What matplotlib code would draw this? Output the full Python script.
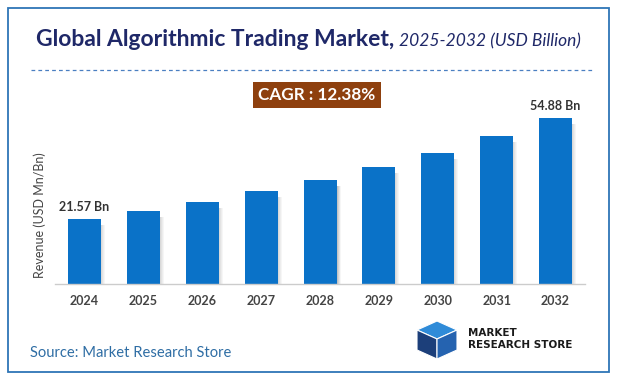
import matplotlib.pyplot as plt
import matplotlib.patches as patches
import numpy as np

# data
years = ["2024", "2025", "2026", "2027", "2028", "2029", "2030", "2031", "2032"]
revenue = [21.57, 24.24, 27.24, 30.61, 34.40, 38.66, 43.44, 48.82, 54.88]
labeled = {0: "21.57 Bn", 8: "54.88 Bn"}
cagr_text = "CAGR : 12.38%"

W, H = 617, 382

def fx(x):
    return x / W

def fy(y):
    return 1 - y / H

plt.rcParams['font.family'] = ['Lato', 'DejaVu Sans']

fig = plt.figure(figsize=(W / 100, H / 100), dpi=100)

# outer border
fig.patches.append(patches.Rectangle((fx(8), fy(372)), fx(601), 364 / H,
                                     transform=fig.transFigure, fill=False,
                                     edgecolor="#2E75B6", linewidth=1.3))

# title
t1 = fig.text(fx(36), fy(46), "Global Algorithmic Trading Market,", fontsize=16.5,
              fontweight="bold", color="#1F2868", va="baseline")
fig.canvas.draw()
bb = t1.get_window_extent()
fig.text((bb.x1 + 5) / W, fy(46), "2025-2032 (USD Billion)", fontsize=12.5,
         style="italic", color="#1F2868", va="baseline")

# dashed separator
fig.add_artist(plt.Line2D([fx(31), fx(592)], [fy(70), fy(70)],
                          transform=fig.transFigure, color="#4A7FC1",
                          linewidth=0.9, linestyle=(0, (3, 2.5))))

# CAGR box
fig.text(fx(317), fy(95), cagr_text, fontsize=12.3, fontweight="bold",
         color="white", ha="center", va="center",
         bbox=dict(boxstyle="square,pad=0.3", facecolor="#8E400E",
                   edgecolor="none"))

# chart axes
left, right, bottom, top = 55, 585, 284, 100
ax = fig.add_axes([fx(left), fy(bottom), fx(right - left), (bottom - top) / H])
x = np.arange(len(years))
step = (right - left) / len(years)
px = 1 / step
width = 33 * px

# shadow
for i, a in enumerate([0.22, 0.16, 0.10, 0.05]):
    ax.bar(x + width / 2 + (i + 0.5) * px, np.array(revenue) - 2.0,
           width=1.2 * px, color="#555555", alpha=a, linewidth=0, zorder=1)
ax.bar(x, revenue, width=width, color="#0A72C8", zorder=2)

for i, t in labeled.items():
    ax.text(x[i], revenue[i] + 2.0, t, ha="center", va="bottom",
            fontsize=9, fontweight="bold", color="#333333")

ax.set_xlim(-0.5, len(years) - 0.5)
ax.set_ylim(0, (bottom - top) / 3.025)
ax.set_xticks(x)
ax.set_xticklabels(years, fontsize=9, fontweight="bold", color="#444444")
ax.tick_params(axis="x", length=0, pad=8)
ax.set_yticks([])
for s in ["top", "right", "left"]:
    ax.spines[s].set_visible(False)
ax.spines["bottom"].set_color("#CCCCCC")
ax.spines["bottom"].set_linewidth(1)

fig.text(fx(40), fy(215), "Revenue (USD Mn/Bn)", rotation=90, fontsize=9,
         color="#444444", ha="center", va="center")

# source
fig.text(fx(30), fy(353), "Source: Market Research Store", fontsize=10.6,
         color="#2E6DA4", va="center")

# logo: simple cube
cx, cy = 437, 340
top_face = [(cx - 20, cy - 10), (cx, cy - 19), (cx + 20, cy - 10), (cx, cy - 1)]
left_face = [(cx - 20, cy - 10), (cx, cy - 1), (cx, cy + 19), (cx - 20, cy + 10)]
right_face = [(cx, cy - 1), (cx + 20, cy - 10), (cx + 20, cy + 10), (cx, cy + 19)]
for pts, col in [(top_face, "#2F8BD8"), (left_face, "#1C3F7A"),
                 (right_face, "#2563B0")]:
    fig.patches.append(patches.Polygon([(fx(a), fy(b)) for a, b in pts],
                                       closed=True, transform=fig.transFigure,
                                       facecolor=col, edgecolor="white",
                                       linewidth=0.8))
fig.text(fx(468), fy(333), "MARKET", fontsize=7.5, fontweight="bold",
         color="#1A1A1A", va="center", family=["DejaVu Sans"])
fig.text(fx(468), fy(345), "RESEARCH STORE", fontsize=7.5, fontweight="bold",
         color="#1A1A1A", va="center", family=["DejaVu Sans"])

fig.savefig("out.png", dpi=100)
